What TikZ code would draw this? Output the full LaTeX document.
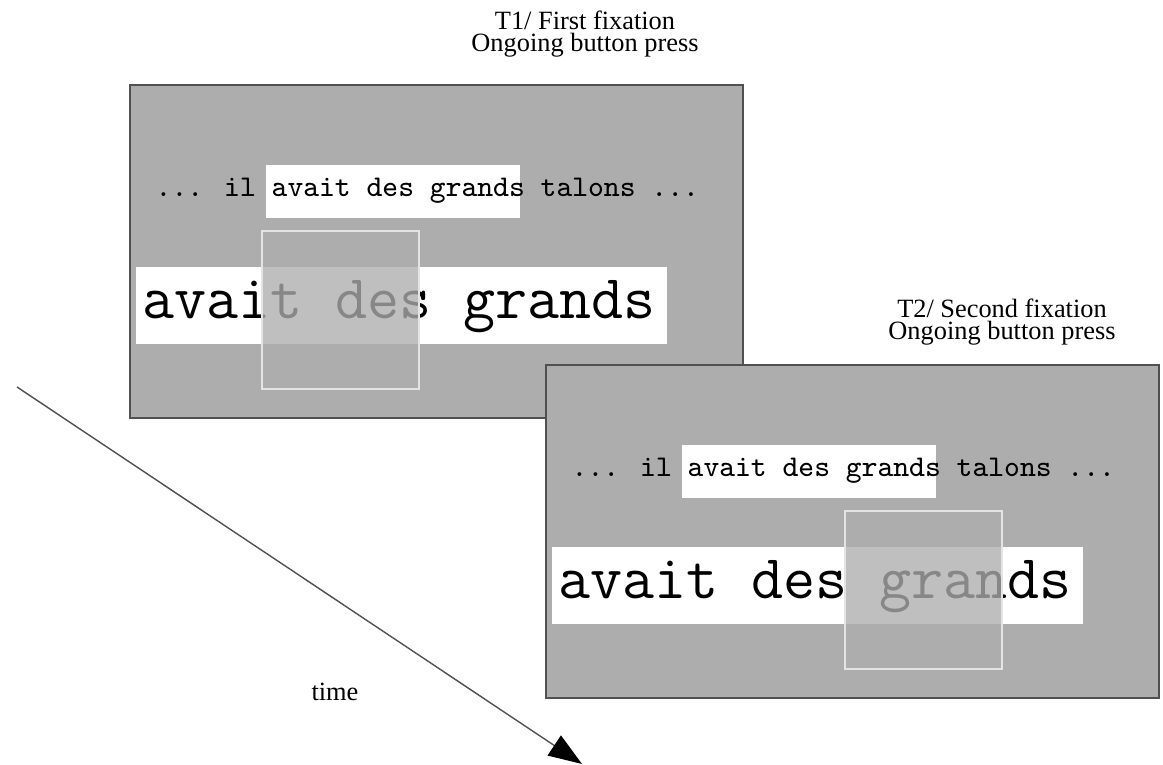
\documentclass[tikz,border=0pt]{standalone}
\usepackage{fontspec}
\setmainfont{Liberation Serif}
\usetikzlibrary{arrows.meta}
\definecolor{screengray}{RGB}{173,173,173}
\definecolor{framegray}{RGB}{80,80,80}
\definecolor{lensline}{RGB}{228,228,228}
\begin{document}
\begin{tikzpicture}[x=0.01cm,y=-0.01cm,
	screen/.style={fill=screengray,draw=framegray,line width=0.5pt},
	wordbox/.style={fill=white},
	lens/.style={fill=screengray,fill opacity=0.78,draw=lensline,line width=0.4pt},
	sentence/.style={anchor=base west,inner sep=0pt,font=\ttfamily\fontsize{8.57}{10}\selectfont},
	bigword/.style={anchor=base west,inner sep=0pt,font=\ttfamily\fontsize{17.7}{20}\selectfont},
	caption/.style={align=center,inner sep=0pt,font=\fontsize{7.5}{6.4}\selectfont},
	timeline/.style={draw=framegray,line width=0.4pt,-{Triangle[length=9.5pt,width=6.8pt,color=black]}}]
	\useasboundingbox (0,0) rectangle (1163,765);
	\foreach \sx/\sy/\lx/\s in {130/85/132/1, 546/365/299/2}{
		\begin{scope}[shift={(\sx,\sy)}]
			\draw[screen] (0,0) rectangle (613,333);
			\fill[wordbox] (136,80) rectangle (390,133);
			\node[sentence] (sentence\s) at (25,112) {... il avait des grands talons ...};
			\fill[wordbox] (6,182) rectangle (537,259);
			\node[bigword] (word\s) at (12,234) {avait des grands};
			\draw[lens] (\lx,146) rectangle ++(157,158);
		\end{scope}
	}
	\node[caption] (first) at (585,34) {T1/ First fixation\\Ongoing button press};
	\node[caption] (second) at (1002,322) {T2/ Second fixation\\Ongoing button press};
	\node[caption] (time) at (335,692) {time};
	\coordinate (tstart) at (17,387);
	\coordinate (tend) at (582,764);
	\draw[timeline] (tstart) -- (tend);
\end{tikzpicture}
\end{document}
